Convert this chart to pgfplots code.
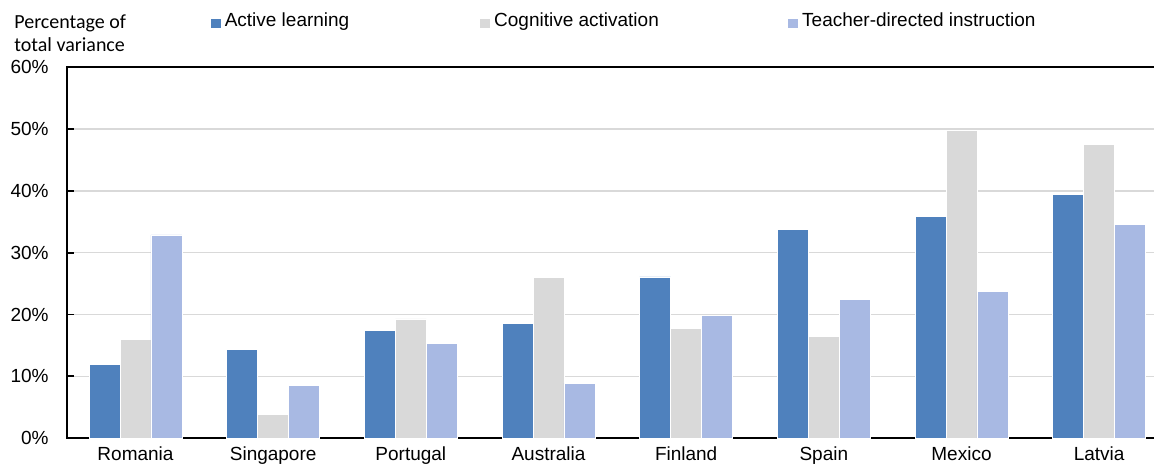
\documentclass[border=0pt]{standalone}
\usepackage{pgfplots}
\pgfplotsset{compat=1.18}
\usepackage{fontspec}
\setmainfont{Liberation Sans}
\newfontfamily\carlito{Carlito}
\usetikzlibrary{calc}
\definecolor{cActive}{HTML}{4F81BD}
\definecolor{cCog}{HTML}{D9D9D9}
\definecolor{cTeach}{HTML}{A8B9E3}
\definecolor{cGrid}{HTML}{D9D9D9}
\begin{document}
\begin{tikzpicture}
\begin{axis}[
  name=ax,
  scale only axis,
  width=551pt, height=185.4pt,
  xmin=-0.5, xmax=7.5,
  ymin=0, ymax=60,
  ybar=0pt, bar width=15.5pt,
  axis lines=box,
  axis line style={black, line width=1pt},
  xtick={0,...,7},
  xticklabels={Romania,Singapore,Portugal,Australia,Finland,Spain,Mexico,Latvia},
  x tick style={draw=none},
  ytick={0,10,...,60},
  yticklabel={\pgfmathprintnumber{\tick}\%},
  /pgf/number format/assume math mode=true,
  y tick style={black, line width=0.8pt},
  major tick length=3.5pt,
  tick align=inside,
  ytick pos=left,
  ymajorgrids,
  grid style={cGrid, line width=0.75pt},
  tick label style={font=\fontsize{9.5}{11}\selectfont},
  yticklabel style={xshift=-5.5pt},
  xticklabel style={yshift=-1pt},
  legend columns=3,
  legend cell align=left,
  legend style={at={(0,1)}, anchor=west, xshift=71.3pt, yshift=23.2pt,
    draw=none, fill=none, inner sep=0pt, column sep=0pt,
    nodes={inner sep=0pt, font=\fontsize{9.5}{11}\selectfont}},
  legend image code/.code={\fill[#1] (0pt,-3.4pt) rectangle (5.5pt,1.6pt);},
]
\addplot[fill=cActive, draw=white, line width=0.3pt] coordinates {
  (0,11.9) (1,14.4) (2,17.4) (3,18.5) (4,26.1) (5,33.8) (6,35.9) (7,39.5)};
\addlegendentry{\hspace{1.8pt}\makebox[127.2pt][l]{Active learning}}
\addplot[fill=cCog, draw=white, line width=0.3pt] coordinates {
  (0,16.0) (1,3.8) (2,19.3) (3,26.0) (4,17.7) (5,16.5) (6,49.8) (7,47.6)};
\addlegendentry{\hspace{1.8pt}\makebox[146.5pt][l]{Cognitive activation}}
\addplot[fill=cTeach, draw=white, line width=0.3pt] coordinates {
  (0,32.9) (1,8.5) (2,15.3) (3,8.9) (4,19.9) (5,22.5) (6,23.7) (7,34.6)};
\addlegendentry{\hspace{1.8pt}Teacher-directed instruction}
\end{axis}
\node[anchor=base west, inner sep=0pt, font=\carlito\fontsize{10}{12}\selectfont] at ([xshift=-26.35pt, yshift=19.6pt]ax.north west) {Percentage of};
\node[anchor=base west, inner sep=0pt, font=\carlito\fontsize{10}{12}\selectfont] at ([xshift=-26.35pt, yshift=7.9pt]ax.north west) {total variance};
\pgfresetboundingbox
\path[use as bounding box] ([xshift=-33.35pt, yshift=-12.85pt]ax.south west) rectangle ([xshift=-7pt, yshift=33.75pt]ax.north east);
\end{tikzpicture}
\end{document}
